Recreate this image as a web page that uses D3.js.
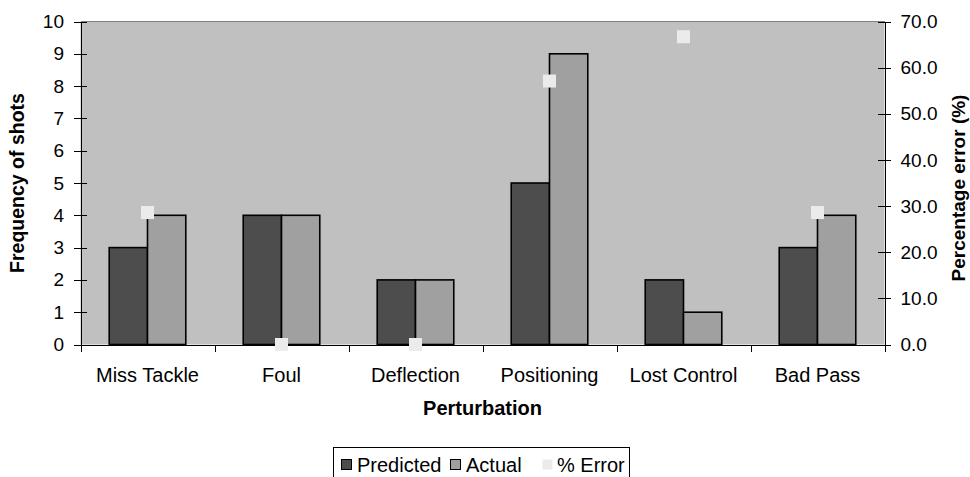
<!DOCTYPE html>
<html>
<head>
<meta charset="utf-8">
<script src="https://cdn.jsdelivr.net/npm/d3@7"></script>
<style>
  body { margin: 0; background: #fff; }
  text { font-family: "Liberation Sans", Arial, sans-serif; fill: #000; }
  .axis path, .axis line { stroke: #000; stroke-width: 1; shape-rendering: crispEdges; }
</style>
</head>
<body>
<script>
"use strict";

// chart data
var categories = ["Miss Tackle", "Foul", "Deflection", "Positioning", "Lost Control", "Bad Pass"];
var predicted = [3, 4, 2, 5, 2, 3];
var actual = [4, 4, 2, 9, 1, 4];
var pctError = [28.6, 0.0, 0.0, 57.1, 66.7, 28.6];
var seriesNames = ["Predicted", "Actual"];
var seriesColors = ["#4d4d4d", "#a0a0a0"];
var errorColor = "#ebebeb";
var leftTicks = [0, 1, 2, 3, 4, 5, 6, 7, 8, 9, 10];
var rightTicks = [0, 10, 20, 30, 40, 50, 60, 70];

var W = 970, H = 477;
var plot = {left: 80.5, right: 884.5, top: 21.5, bottom: 344.5};

var svg = d3.select("body").append("svg")
    .attr("width", W)
    .attr("height", H);

// scales
var x = d3.scaleBand()
    .domain(categories)
    .range([plot.left, plot.right])
    .paddingInner(0)
    .paddingOuter(0);

var xSub = d3.scaleBand()
    .domain(seriesNames)
    .range([0, x.bandwidth()])
    .paddingInner(0)
    .paddingOuter(0.75);

var xEdges = d3.scaleLinear()
    .domain([0, categories.length])
    .range([plot.left, plot.right]);

var yLeft = d3.scaleLinear()
    .domain([0, 10])
    .range([plot.bottom, plot.top]);

var yRight = d3.scaleLinear()
    .domain([0, 70])
    .range([plot.bottom, plot.top]);

// plot background
svg.append("rect")
    .attr("x", plot.left)
    .attr("y", plot.top)
    .attr("width", plot.right - plot.left)
    .attr("height", plot.bottom - plot.top)
    .attr("fill", "#c0c0c0");

svg.append("line")
    .attr("x1", plot.left).attr("x2", plot.right)
    .attr("y1", plot.top).attr("y2", plot.top)
    .attr("stroke", "#808080")
    .attr("shape-rendering", "crispEdges");

// bars
var rows = categories.map(function(c, i) {
  return {cat: c, values: [predicted[i], actual[i]]};
});

var groups = svg.append("g").selectAll("g")
    .data(rows)
  .enter().append("g")
    .attr("transform", function(d) { return "translate(" + x(d.cat) + ",0)"; });

groups.selectAll("rect")
    .data(function(d) {
      return d.values.map(function(v, j) { return {name: seriesNames[j], value: v, idx: j}; });
    })
  .enter().append("rect")
    .attr("x", function(d) { return xSub(d.name); })
    .attr("y", function(d) { return yLeft(d.value); })
    .attr("width", xSub.bandwidth())
    .attr("height", function(d) { return plot.bottom - yLeft(d.value); })
    .attr("fill", function(d) { return seriesColors[d.idx]; })
    .attr("stroke", "#000")
    .attr("stroke-width", 1.6);

// x axis: boundary ticks
svg.append("g")
    .attr("class", "axis")
    .attr("transform", "translate(0," + plot.bottom + ")")
    .call(d3.axisBottom(xEdges).ticks(categories.length).tickFormat("").tickSize(7).tickSizeOuter(0));

// x axis: category labels
var gXLabels = svg.append("g")
    .attr("transform", "translate(0," + plot.bottom + ")")
    .call(d3.axisBottom(x).tickSize(0).tickPadding(23));
gXLabels.select(".domain").remove();
gXLabels.selectAll("text")
    .attr("font-size", "20px")
    .attr("font-family", "Liberation Sans, Arial, sans-serif")
    .attr("fill", "#000");

// left axis
var gYL = svg.append("g")
    .attr("class", "axis")
    .attr("transform", "translate(" + plot.left + ",0)")
    .call(d3.axisLeft(yLeft).tickValues(leftTicks).tickSizeInner(6).tickSizeOuter(0).tickPadding(10.5));
gYL.selectAll(".tick line").attr("x1", 6.5).attr("x2", -6.5);
gYL.selectAll("text")
    .attr("font-size", "19px")
    .attr("font-family", "Liberation Sans, Arial, sans-serif")
    .attr("fill", "#000");

// right axis
var gYR = svg.append("g")
    .attr("class", "axis")
    .attr("transform", "translate(" + plot.right + ",0)")
    .call(d3.axisRight(yRight).tickValues(rightTicks).tickFormat(d3.format(".1f"))
      .tickSizeInner(6).tickSizeOuter(0).tickPadding(10));
gYR.selectAll(".tick line").attr("x1", -6.5).attr("x2", 6.5);
gYR.selectAll("text")
    .attr("font-size", "19px")
    .attr("font-family", "Liberation Sans, Arial, sans-serif")
    .attr("fill", "#000");

// error markers
svg.append("g").selectAll("rect")
    .data(pctError)
  .enter().append("rect")
    .attr("x", function(d, i) { return x(categories[i]) + x.bandwidth() / 2 - 6.5; })
    .attr("y", function(d) { return yRight(d) - 6.5; })
    .attr("width", 13)
    .attr("height", 13)
    .attr("fill", errorColor);

// axis titles
svg.append("text")
    .attr("transform", "translate(24," + (plot.top + plot.bottom) / 2 + ") rotate(-90)")
    .attr("text-anchor", "middle")
    .attr("font-size", "19.5px")
    .attr("font-weight", "bold")
    .text("Frequency of shots");

svg.append("text")
    .attr("transform", "translate(965," + ((plot.top + plot.bottom) / 2 + 5) + ") rotate(-90)")
    .attr("text-anchor", "middle")
    .attr("font-size", "19px")
    .attr("font-weight", "bold")
    .text("Percentage error (%)");

svg.append("text")
    .attr("x", (plot.left + plot.right) / 2)
    .attr("y", 415)
    .attr("text-anchor", "middle")
    .attr("font-size", "20px")
    .attr("font-weight", "bold")
    .text("Perturbation");

// legend
var legend = svg.append("g");
legend.append("rect")
    .attr("x", 333.5)
    .attr("y", 447.5)
    .attr("width", 296)
    .attr("height", 40)
    .attr("fill", "#fff")
    .attr("stroke", "#000");

var legendItems = [
  {name: "Predicted", color: seriesColors[0], stroke: "#000", sx: 341, tx: 357},
  {name: "Actual", color: seriesColors[1], stroke: "#000", sx: 450, tx: 466},
  {name: "% Error", color: errorColor, stroke: "none", sx: 542, tx: 557}
];

legend.selectAll("rect.sw")
    .data(legendItems)
  .enter().append("rect")
    .attr("class", "sw")
    .attr("x", function(d) { return d.sx + 0.5; })
    .attr("y", 459.5)
    .attr("width", 10)
    .attr("height", 10)
    .attr("fill", function(d) { return d.color; })
    .attr("stroke", function(d) { return d.stroke; });

legend.selectAll("text")
    .data(legendItems)
  .enter().append("text")
    .attr("x", function(d) { return d.tx; })
    .attr("y", 472)
    .attr("font-size", "20px")
    .text(function(d) { return d.name; });
</script>
</body>
</html>
